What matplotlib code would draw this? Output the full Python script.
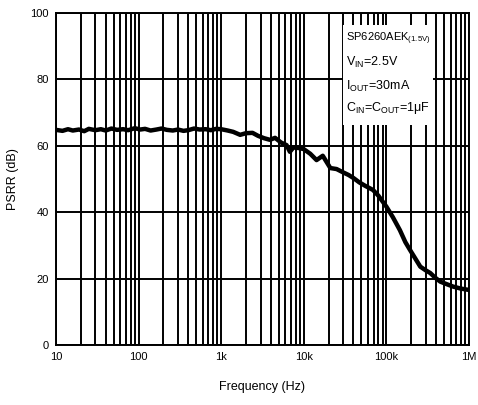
import numpy as np
import matplotlib.pyplot as plt
from matplotlib.patches import Rectangle
from matplotlib.ticker import FixedLocator, NullFormatter

plt.rcParams['font.family'] = ['Liberation Sans', 'DejaVu Sans']
plt.rcParams['mathtext.fontset'] = 'custom'
plt.rcParams['mathtext.rm'] = 'Liberation Sans'

# Datos (frecuencia en Hz, PSRR en dB)
freq = [10, 12, 14, 16, 19, 22, 25, 30, 35, 40, 47, 55, 65, 75, 90, 105, 120, 140,
        165, 190, 220, 260, 300, 350, 400, 470, 550, 650, 750, 870, 1000, 1200, 1400,
        1700, 2000, 2400, 2800, 3300, 3900, 4500, 5300, 6200, 6800, 7500, 8900,
        10000, 12000, 14300, 17000, 21000, 25000, 30000, 35000, 40000, 47000,
        55000, 69000, 80000, 100000, 120000, 146000, 170000, 194000, 225000,
        258000, 300000, 340000, 390000, 450000, 530000, 645000, 800000, 1000000]
psrr = [64.8, 64.5, 65.0, 64.6, 64.9, 64.4, 65.1, 64.7, 65.0, 64.6, 65.2, 64.8,
        65.0, 64.7, 65.3, 64.9, 65.1, 64.6, 64.9, 65.2, 64.8, 64.6, 64.9, 64.5,
        64.7, 65.2, 64.9, 65.0, 64.7, 65.1, 65.0, 64.6, 64.2, 63.3, 63.8, 63.9,
        63.0, 62.3, 61.8, 62.4, 61.0, 60.2, 58.2, 59.5, 59.3, 59.0, 57.6, 55.7,
        57.0, 53.3, 53.0, 52.0, 51.2, 50.3, 49.0, 48.0, 46.7, 45.0, 41.7, 38.5,
        34.6, 31.0, 28.6, 26.0, 23.6, 22.5, 21.7, 20.3, 19.1, 18.4, 17.6, 17.0, 16.6]

xticks = [10, 100, 1000, 10000, 100000, 1000000]
xticklabels = ['10', '100', '1k', '10k', '100k', '1M']
yticks = [0, 20, 40, 60, 80, 100]

cond_lines = ['SP6260AEK$\\mathregular{_{(1.5V)}}$',
              '$\\mathregular{V_{IN}}$=2.5V',
              '$\\mathregular{I_{OUT}}$=30mA',
              '$\\mathregular{C_{IN}}$=$\\mathregular{C_{OUT}}$=1μF']

minor = [m * d for d in [10, 100, 1000, 10000, 100000] for m in range(2, 10)]

fig = plt.figure(figsize=(4.78, 4.05), dpi=100)
ax = fig.add_axes([0.117, 0.148, 0.864, 0.820])

ax.set_xscale('log')
ax.set_xlim(10, 1e6)
ax.set_ylim(0, 100)
ax.xaxis.set_major_locator(FixedLocator(xticks))
ax.xaxis.set_minor_locator(FixedLocator(minor))
ax.xaxis.set_minor_formatter(NullFormatter())
ax.set_xticklabels(xticklabels)
ax.set_yticks(yticks)
ax.tick_params(which='both', length=0, labelsize=8, pad=5)

ax.grid(True, which='both', axis='x', color='black', linewidth=1.4)
ax.grid(True, which='major', axis='y', color='black', linewidth=1.4)
for s in ax.spines.values():
    s.set_linewidth(1.4)

ax.plot(freq, psrr, color='black', linewidth=3.2, zorder=3)

# Cuadro de condiciones
ax.add_patch(Rectangle((0.695, 0.663), 0.218, 0.301, transform=ax.transAxes,
                       facecolor='white', edgecolor='none', zorder=4))
ys = [0.922, 0.852, 0.779, 0.714]
sizes = [8, 9, 9, 9]
for t, y, fs in zip(cond_lines, ys, sizes):
    ax.text(0.702, y, t, transform=ax.transAxes, fontsize=fs,
            va='center', ha='left', zorder=5)

ax.set_xlabel('Frequency (Hz)', fontsize=9, labelpad=14)
ax.set_ylabel('PSRR (dB)', fontsize=9, labelpad=8)

plt.savefig('out.png', dpi=100)
